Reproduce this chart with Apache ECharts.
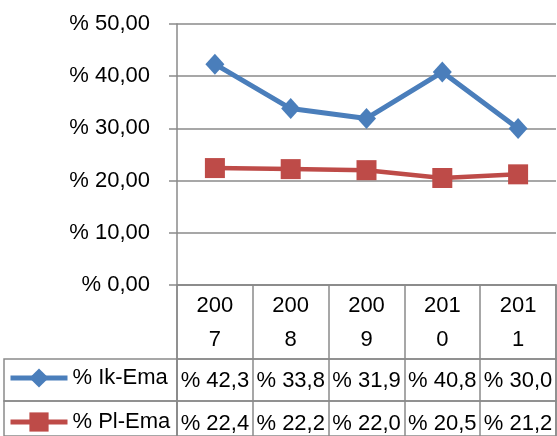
<!DOCTYPE html>
<html>
<head>
<meta charset="utf-8">
<script src="https://cdn.jsdelivr.net/npm/echarts@6/dist/echarts.min.js"></script>
<style>html,body{margin:0;padding:0;background:#fff}#c{width:557px;height:436px}</style>
</head>
<body>
<div id="c"></div>
<script>
const years = ['2007', '2008', '2009', '2010', '2011'];
const ikEma = [42.3, 33.8, 31.9, 40.8, 30.0];
const plEma = [22.4, 22.2, 22.0, 20.5, 21.2];
const seriesNames = ['% Ik-Ema', '% Pl-Ema'];
const yTicks = [0, 10, 20, 30, 40, 50];

const FONT = 'Liberation Sans';
const GRAY = '#8a8a8a';
const fmtAxis = v => '% ' + v.toFixed(2).replace('.', ',');
const fmtVal = v => '% ' + v.toFixed(1).replace('.', ',');

const chart = echarts.init(document.getElementById('c'), null, {renderer: 'canvas'});

const border = {show: true, borderColor: GRAY, borderWidth: 1.5, backgroundColor: 'transparent'};
const hiddenY = i => ({type: 'value', gridIndex: i, show: false});
const rowAxis = (i, margin, fmt, lh) => ({
  type: 'category', gridIndex: i, data: years, boundaryGap: true, position: 'bottom',
  axisLine: {show: false}, axisTick: {show: false},
  splitLine: {show: true, lineStyle: {color: GRAY, width: 1.5}},
  axisLabel: {show: true, interval: 0, margin: margin, formatter: fmt,
    color: '#000', fontFamily: FONT, fontSize: 22, lineHeight: lh}
});

chart.setOption({
  animation: false,
  grid: [
    {left: 177, right: 1, top: 24, bottom: 151},
    Object.assign({left: 177, right: 1, top: 285, height: 74}, border),
    Object.assign({left: 177, right: 1, top: 359, height: 42}, border),
    Object.assign({left: 177, right: 1, top: 401, height: 36}, border),
    Object.assign({left: 4, width: 173, top: 359, height: 42}, border),
    Object.assign({left: 4, width: 173, top: 401, height: 36}, border)
  ],
  legend: {
    data: seriesNames, orient: 'vertical', left: 8, top: 367, padding: 0,
    itemWidth: 57, itemHeight: 24, itemGap: 22,
    lineStyle: {width: 5},
    textStyle: {color: '#000', fontFamily: FONT, fontSize: 22, lineHeight: 22}
  },
  xAxis: [
    {type: 'category', gridIndex: 0, data: years, boundaryGap: true,
     axisLine: {show: true, lineStyle: {color: GRAY, width: 1.5}},
     axisTick: {show: false}, axisLabel: {show: false}, splitLine: {show: false}},
    rowAxis(1, -70, v => v.slice(0, 3) + '\n' + v.slice(3), 34),
    rowAxis(2, -31, (v, i) => fmtVal(ikEma[i]), 22),
    rowAxis(3, -23, (v, i) => fmtVal(plEma[i]), 22),
    {type: 'category', gridIndex: 4, show: false, data: ['']},
    {type: 'category', gridIndex: 5, show: false, data: ['']}
  ],
  yAxis: [
    {type: 'value', gridIndex: 0, min: yTicks[0], max: yTicks[yTicks.length - 1], interval: 10,
     axisLine: {show: true, lineStyle: {color: GRAY, width: 1.5}},
     axisTick: {show: true, length: 8, lineStyle: {color: GRAY, width: 1.5}},
     splitLine: {show: true, lineStyle: {color: GRAY, width: 1.5}},
     axisLabel: {formatter: fmtAxis, margin: 27, color: '#000', fontFamily: FONT, fontSize: 22}},
    hiddenY(1), hiddenY(2), hiddenY(3), hiddenY(4), hiddenY(5)
  ],
  series: [
    {name: seriesNames[0], type: 'line', xAxisIndex: 0, yAxisIndex: 0, data: ikEma,
     color: '#4A7EBB', lineStyle: {width: 5, color: '#4A7EBB'},
     symbol: 'diamond', symbolSize: [19, 21], itemStyle: {color: '#4A7EBB'}},
    {name: seriesNames[1], type: 'line', xAxisIndex: 0, yAxisIndex: 0, data: plEma,
     color: '#BE4B48', lineStyle: {width: 4.5, color: '#BE4B48'},
     symbol: 'rect', symbolSize: 20, itemStyle: {color: '#BE4B48'}}
  ]
});
</script>
</body>
</html>
